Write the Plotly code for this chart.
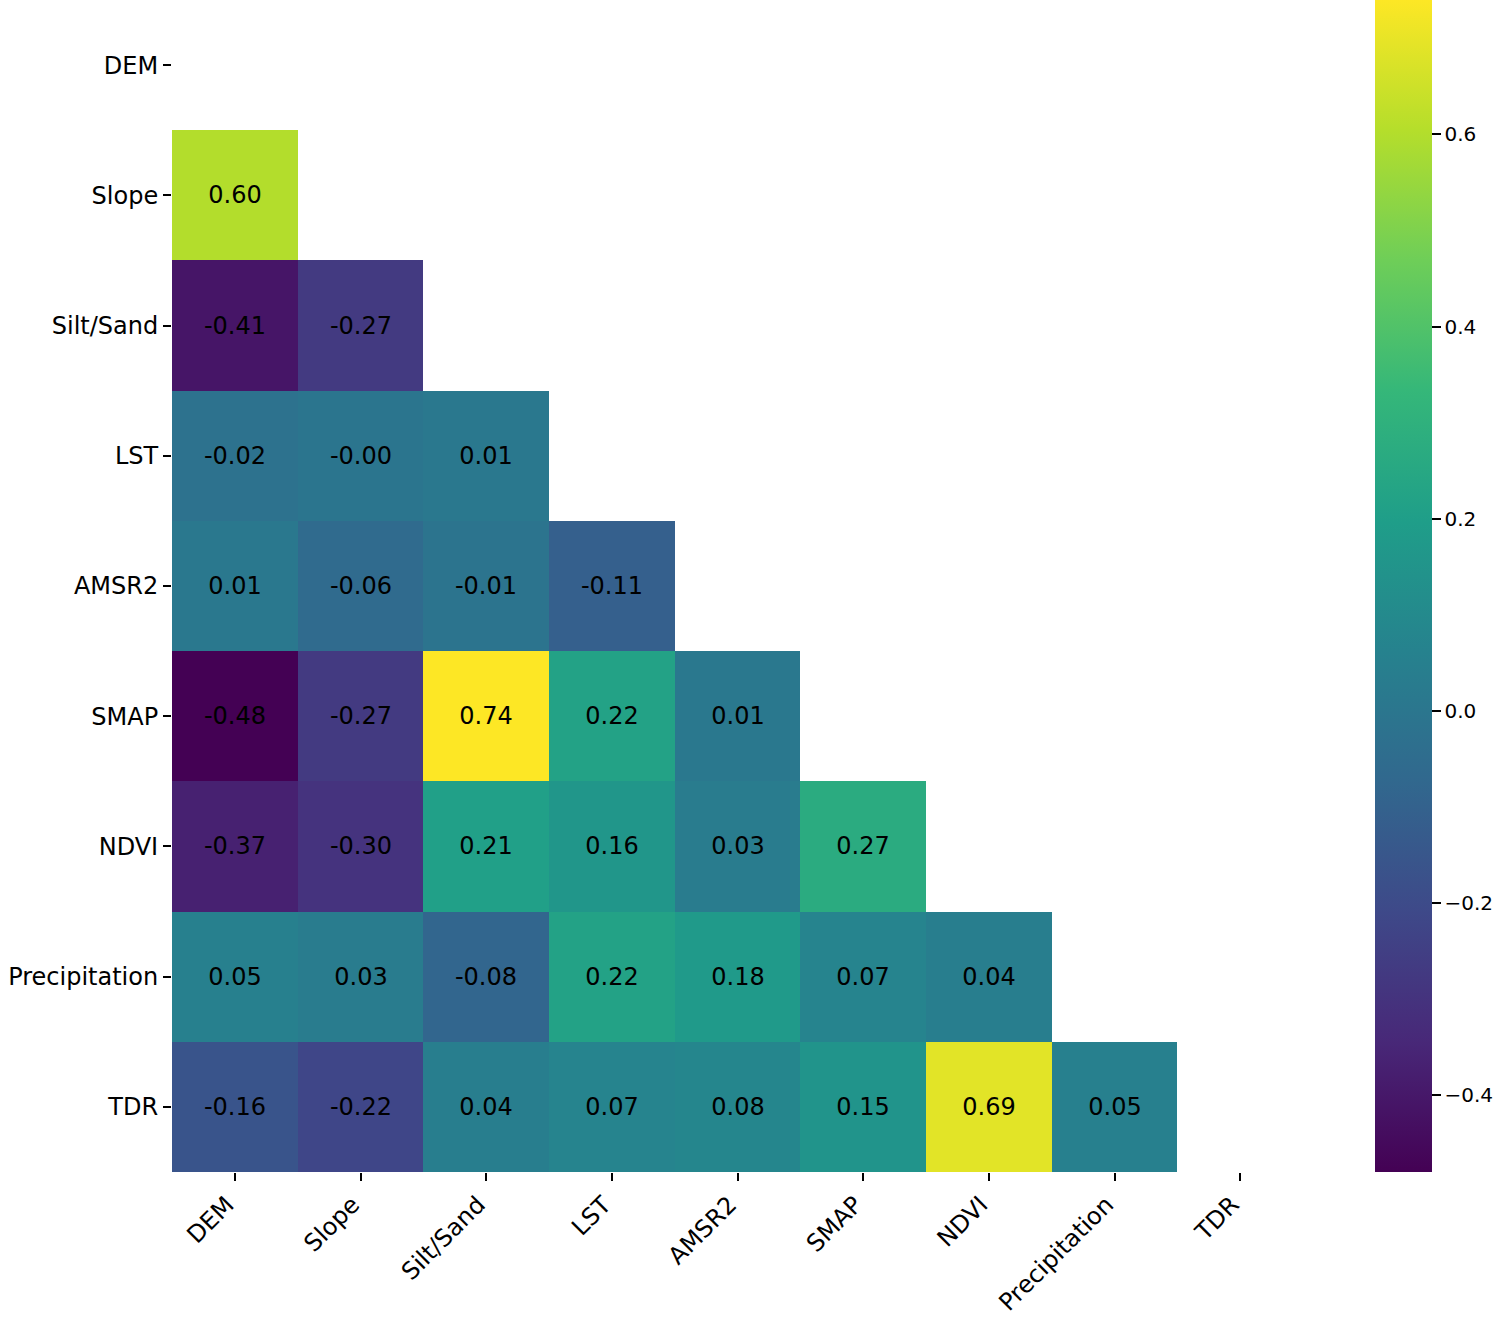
import plotly.graph_objects as go

labels = ["DEM", "Slope", "Silt/Sand", "LST", "AMSR2", "SMAP", "NDVI", "Precipitation", "TDR"]

# lower-triangle correlation values (row i, columns 0..i-1)
row_slope = [0.60]
row_siltsand = [-0.41, -0.27]
row_lst = [-0.02, -0.003, 0.01]
row_amsr2 = [0.01, -0.06, -0.01, -0.11]
row_smap = [-0.48, -0.27, 0.74, 0.22, 0.01]
row_ndvi = [-0.37, -0.30, 0.21, 0.16, 0.03, 0.27]
row_precip = [0.05, 0.03, -0.08, 0.22, 0.18, 0.07, 0.04]
row_tdr = [-0.16, -0.22, 0.04, 0.07, 0.08, 0.15, 0.69, 0.05]

rows = [[], row_slope, row_siltsand, row_lst, row_amsr2, row_smap, row_ndvi, row_precip, row_tdr]
n = len(labels)
z = [r + [None] * (n - len(r)) for r in rows]
text = [[("" if v is None else f"{v:.2f}") for v in r] for r in z]

vals = [v for r in rows for v in r]
zmin, zmax = min(vals), max(vals)

font = "DejaVu Sans"

fig = go.Figure(go.Heatmap(
    z=z, x=labels, y=labels, text=text, texttemplate="%{text}",
    textfont=dict(family=font, size=24, color="black"),
    colorscale="Viridis", zmin=zmin, zmax=zmax,
    hoverongaps=False,
    colorbar=dict(
        thickness=57, len=1.0, lenmode="fraction", y=0.5, yanchor="middle",
        x=(1375 - 172) / 1131, xanchor="left", xpad=0, ypad=0,
        outlinewidth=0, ticks="outside", ticklen=9, tickwidth=1.5, tickcolor="black",
        tickvals=[-0.4, -0.2, 0.0, 0.2, 0.4, 0.6],
        ticktext=["\u22120.4", "\u22120.2", "0.0", "0.2", "0.4", "0.6"],
        tickfont=dict(family=font, size=20, color="black"),
    ),
))

fig.update_layout(
    width=1500, height=1317,
    margin=dict(l=172, r=197, t=0, b=145, autoexpand=False),
    plot_bgcolor="white", paper_bgcolor="white",
    font=dict(family=font, size=24, color="black"),
)
fig.update_xaxes(
    type="category", categoryorder="array", categoryarray=labels,
    tickangle=-45, ticks="outside", ticklen=8, tickwidth=1.5, tickcolor="black",
    ticklabelshift=-8,
    showgrid=False, zeroline=False, showline=False, automargin=False,
    tickfont=dict(family=font, size=24, color="black"),
)
fig.update_yaxes(
    type="category", categoryorder="array", categoryarray=labels, autorange="reversed",
    ticks="outside", ticklen=8, tickwidth=1.5, tickcolor="black",
    showgrid=False, zeroline=False, showline=False, automargin=False,
    tickfont=dict(family=font, size=24, color="black"),
)

fig.write_html("out.html", config={"displayModeBar": False},
               post_script="document.body.style.margin='0';")
